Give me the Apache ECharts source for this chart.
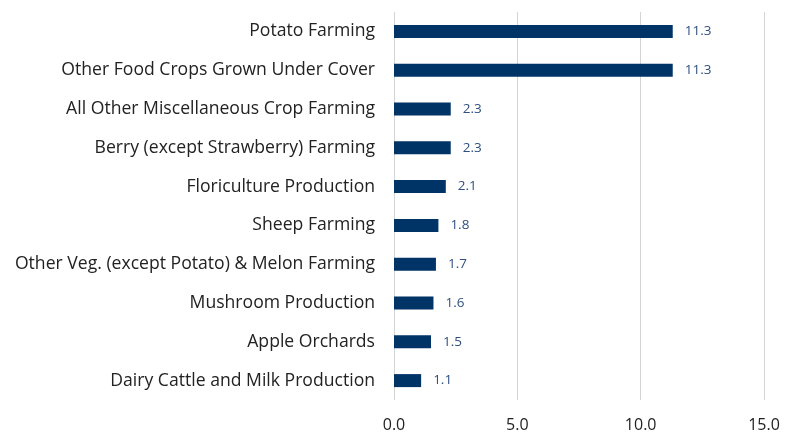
<!DOCTYPE html>
<html>
<head>
<meta charset="utf-8">
<script src="https://cdn.jsdelivr.net/npm/echarts@6/dist/echarts.min.js"></script>
<style>
    html, body { margin: 0; padding: 0; background: #fff; }
    #chart { width: 785px; height: 435px; }
</style>
</head>
<body>
<div id="chart"></div>
<script>
    // 数据 (从上到下)
    var categories = [
        "Potato Farming",
        "Other Food Crops Grown Under Cover",
        "All Other Miscellaneous Crop Farming",
        "Berry (except Strawberry) Farming",
        "Floriculture Production",
        "Sheep Farming",
        "Other Veg. (except Potato) & Melon Farming",
        "Mushroom Production",
        "Apple Orchards",
        "Dairy Cattle and Milk Production"
    ];
    var values = [11.3, 11.3, 2.3, 2.3, 2.1, 1.8, 1.7, 1.6, 1.5, 1.1];
    var xTicks = [0, 5, 10, 15];

    var chart = echarts.init(document.getElementById("chart"));
    var option = {
        animation: false,
        grid: { left: 394, right: 21, top: 12, bottom: 35, containLabel: false },
        xAxis: {
            type: "value",
            min: xTicks[0],
            max: xTicks[xTicks.length - 1],
            interval: 5,
            axisLine: { show: false },
            axisTick: { show: false },
            splitLine: { show: true, lineStyle: { color: "#d4d4d4", width: 1 } },
            axisLabel: {
                margin: 17,
                color: "#222",
                fontSize: 16,
                fontFamily: "Open Sans",
                formatter: function (v) { return v.toFixed(1); }
            }
        },
        yAxis: {
            type: "category",
            inverse: true,
            data: categories,
            axisLine: { show: false },
            axisTick: { show: false },
            axisLabel: {
                margin: 19,
                color: "#222",
                fontSize: 17.6,
                fontFamily: "Open Sans"
            }
        },
        series: [{
            type: "bar",
            data: values,
            barWidth: 13,
            itemStyle: { color: "#003366" },
            label: {
                show: true,
                position: "right",
                distance: 12,
                color: "#2f4f7f",
                fontSize: 13.5,
                fontFamily: "Open Sans",
                formatter: function (p) { return p.value.toFixed(1); }
            }
        }]
    };
    chart.setOption(option);
</script>
</body>
</html>
